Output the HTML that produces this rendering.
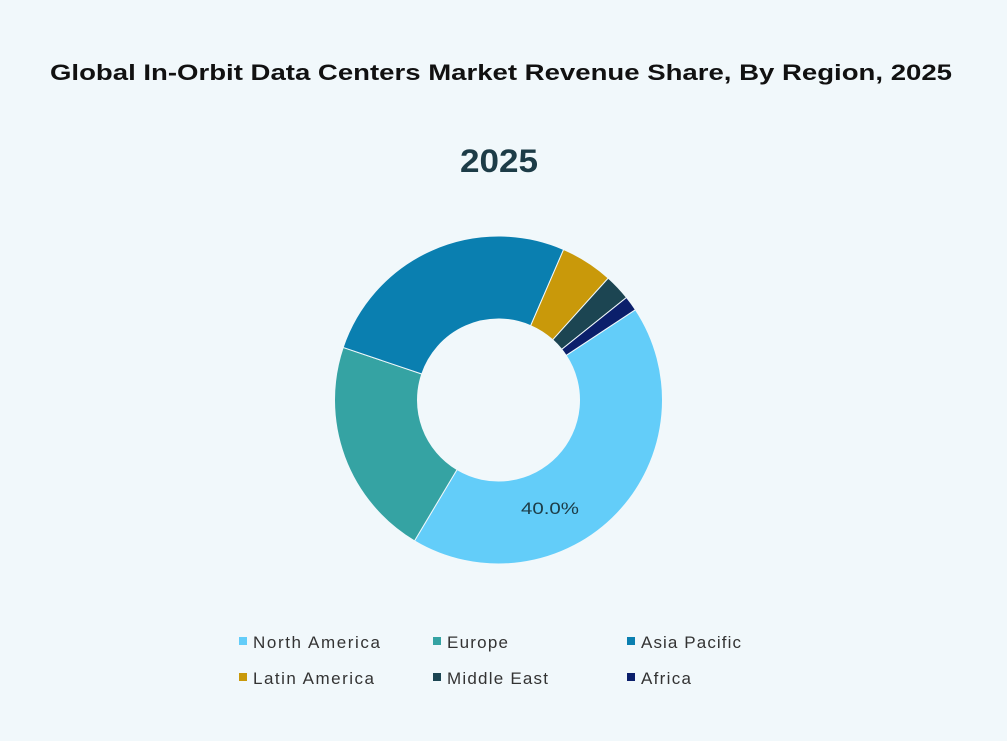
<!DOCTYPE html>
<html><head><style>
html,body{margin:0;padding:0;background:#f1f8fb;}
body{width:1007px;height:736px;overflow:hidden;font-family:"Liberation Sans",sans-serif;}
</style></head><body>
<svg width="1007" height="736" xmlns="http://www.w3.org/2000/svg">
<rect width="1007" height="736" fill="#f1f8fb"/>
<text x="50" y="80" textLength="902" lengthAdjust="spacingAndGlyphs" font-family="Liberation Sans, sans-serif" font-weight="bold" font-size="22" fill="#111">Global In-Orbit Data Centers Market Revenue Share, By Region, 2025</text>
<text x="460" y="172" textLength="78" lengthAdjust="spacingAndGlyphs" font-family="Liberation Sans, sans-serif" font-weight="bold" font-size="32" fill="#1d3c47">2025</text>
<g id="pie" stroke="#f1f8fb" stroke-width="1"></g>
<text x="521" y="514" textLength="58" lengthAdjust="spacingAndGlyphs" font-family="Liberation Sans, sans-serif" font-size="17" fill="#1d3c47">40.0%</text>
<g font-family="Liberation Sans, sans-serif" font-size="17" fill="#333" lengthAdjust="spacingAndGlyphs">
<rect x="239" y="637" width="8" height="8" fill="#63cdf9"/><text x="253" y="648" textLength="127">North America</text>
<rect x="433" y="637" width="8" height="8" fill="#35a3a3"/><text x="447" y="648" textLength="61">Europe</text>
<rect x="627" y="637" width="8" height="8" fill="#0a7fb0"/><text x="641" y="648" textLength="100">Asia Pacific</text>
<rect x="239" y="673" width="8" height="8" fill="#c9990a"/><text x="253" y="684" textLength="121">Latin America</text>
<rect x="433" y="673" width="8" height="8" fill="#1c4552"/><text x="447" y="684" textLength="101">Middle East</text>
<rect x="627" y="673" width="8" height="8" fill="#0b1f6b"/><text x="641" y="684" textLength="50">Africa</text>
</g>
</svg>
<script>
var cx=498.5,cy=400,R=164,r=81;
var segs=[[56.6,210.8,"#63cdf9"],[210.8,288.7,"#35a3a3"],[288.7,383.4,"#0a7fb0"],[23.4,42,"#c9990a"],[42,51.3,"#1c4552"],[51.3,56.6,"#0b1f6b"]];
function pt(a,rad){a=a*Math.PI/180;return [cx+rad*Math.sin(a),cy-rad*Math.cos(a)];}
var g=document.getElementById("pie"),h="";
segs.forEach(function(s){var a0=s[0],a1=s[1],l=(a1-a0)>180?1:0;
var p0=pt(a0,R),p1=pt(a1,R),q1=pt(a1,r),q0=pt(a0,r);
h+='<path fill="'+s[2]+'" d="M'+p0+' A'+R+','+R+' 0 '+l+' 1 '+p1+' L'+q1+' A'+r+','+r+' 0 '+l+' 0 '+q0+' Z"/>';});
g.innerHTML=h;
</script>
</body></html>
